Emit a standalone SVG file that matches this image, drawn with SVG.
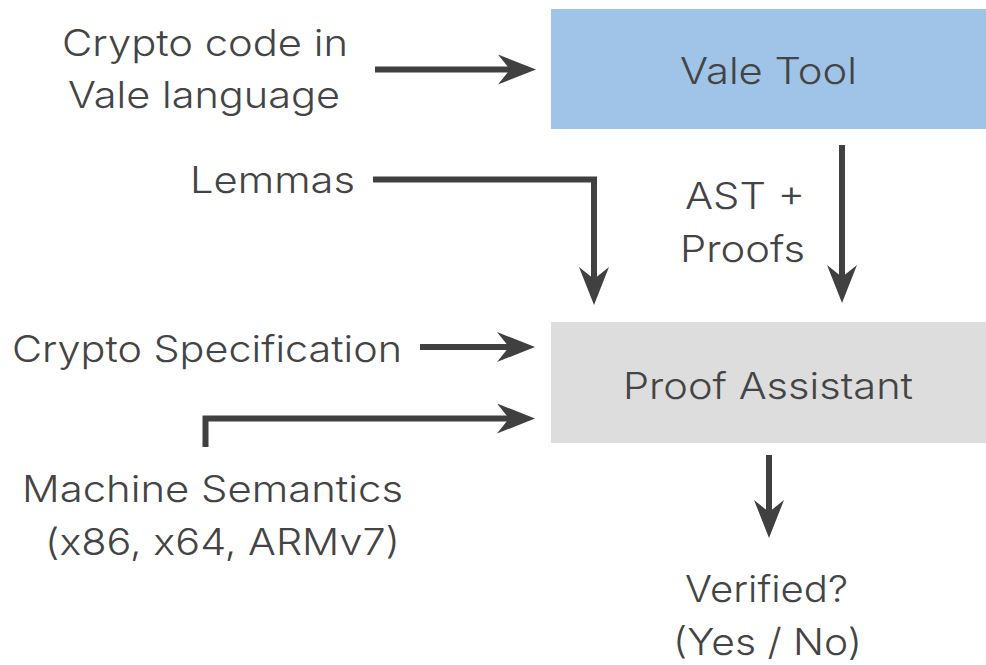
<svg xmlns="http://www.w3.org/2000/svg" width="986" height="665" viewBox="0 0 986 665">
<style>
text{font-family:Inter,Roboto,"Liberation Sans",sans-serif;font-weight:300;font-size:37px;fill:#444444;text-anchor:middle}
.conn{fill:none;stroke:#404040;stroke-width:6;stroke-linejoin:miter}
</style>
<defs>
<marker id="ah" viewBox="0 0 38 30" markerWidth="38" markerHeight="30" refX="12" refY="15" orient="auto" markerUnits="userSpaceOnUse">
<path d="M38,15 L0,0 L12,15 L0,30 Z" fill="#404040"/>
</marker>
</defs>
<rect width="986" height="665" fill="#ffffff"/>
<g id="vale-tool">
<rect x="551" y="9" width="435" height="120" fill="#9fc4e8"/>
<text x="768.5" y="84" textLength="177" lengthAdjust="spacingAndGlyphs">Vale Tool</text>
</g>
<g id="proof-assistant">
<rect x="551" y="322" width="435" height="121" fill="#dddddd"/>
<text x="768" y="399" textLength="290" lengthAdjust="spacingAndGlyphs">Proof Assistant</text>
</g>
<g id="crypto-code">
<text x="205" y="56" textLength="286" lengthAdjust="spacingAndGlyphs">Crypto code in</text>
<text x="204" y="108" textLength="272" lengthAdjust="spacingAndGlyphs">Vale language</text>
</g>
<g id="lemmas">
<text x="272.5" y="193" textLength="165" lengthAdjust="spacingAndGlyphs">Lemmas</text>
</g>
<g id="crypto-spec">
<text x="207" y="362" textLength="390" lengthAdjust="spacingAndGlyphs">Crypto Specification</text>
</g>
<g id="machine-semantics">
<text x="212.5" y="502" textLength="381" lengthAdjust="spacingAndGlyphs">Machine Semantics</text>
<text x="222.5" y="555" textLength="355" lengthAdjust="spacingAndGlyphs">(x86, x64, ARMv7)</text>
</g>
<g id="ast-proofs">
<text x="745" y="209" textLength="120" lengthAdjust="spacingAndGlyphs">AST +</text>
<text x="742.5" y="262" textLength="125" lengthAdjust="spacingAndGlyphs">Proofs</text>
</g>
<g id="verified">
<text x="766.5" y="602" textLength="163" lengthAdjust="spacingAndGlyphs">Verified?</text>
<text x="767.5" y="655" textLength="189" lengthAdjust="spacingAndGlyphs">(Yes / No)</text>
</g>
<g id="connectors">
<path class="conn" d="M375,69.5 H510" marker-end="url(#ah)"/>
<path class="conn" d="M373,179.5 H594 V279" marker-end="url(#ah)"/>
<path class="conn" d="M842,145 V277" marker-end="url(#ah)"/>
<path class="conn" d="M420,347 H509" marker-end="url(#ah)"/>
<path class="conn" d="M205.5,447 V418.5 H509" marker-end="url(#ah)"/>
<path class="conn" d="M769,455 V512" marker-end="url(#ah)"/>
</g>
</svg>
